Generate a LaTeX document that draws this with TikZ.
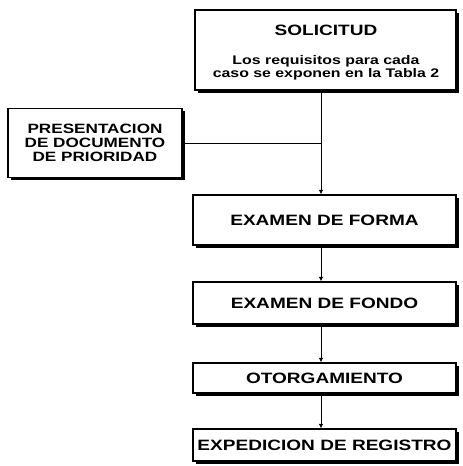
\documentclass[tikz,border=0pt]{standalone}
\usepackage{fontspec}
\newfontfamily\boxfont[FakeStretch=1.27]{Liberation Sans}
\usetikzlibrary{arrows.meta,shadows}
\tikzset{
  boxnode/.style={draw=black, line width=1.2pt, fill=white, rectangle, inner sep=0pt,
    drop shadow={shadow xshift=2.5pt, shadow yshift=-2.5pt, fill=black, opacity=1},
    font=\boxfont\bfseries\fontsize{15}{18}\selectfont, align=center},
  txt/.style={inner sep=0pt, align=center},
  conn/.style={line width=0.9pt},
  arr/.style={line width=0.9pt, -{Latex[length=4.5pt,width=4.5pt]}}
}
\begin{document}
\begin{tikzpicture}[x=1pt,y=-1pt]
\useasboundingbox (0,0) rectangle (463,466);
\coordinate (axis) at (321,0);
% boxes
\node[boxnode, minimum width=261pt, minimum height=80pt] (sol) at (325.5,50) {};
\node[txt, font=\boxfont\bfseries\fontsize{15}{18}\selectfont] (soltitle) at (326,30) {SOLICITUD};
\node[txt, font=\boxfont\bfseries\fontsize{12.5}{13.5}\selectfont] (soltext) at (326,68) {Los requisitos para cada\\caso se exponen en la Tabla 2};
\node[boxnode, minimum width=174pt, minimum height=69pt, font=\boxfont\bfseries\fontsize{13.5}{14}\selectfont] (pres) at (95,143) {PRESENTACION\\DE DOCUMENTO\\DE PRIORIDAD};
\node[boxnode, minimum width=263pt, minimum height=50pt] (forma) at (324.5,220) {EXAMEN DE FORMA};
\node[boxnode, minimum width=263pt, minimum height=42pt] (fondo) at (324.5,303) {EXAMEN DE FONDO};
\node[boxnode, minimum width=263pt, minimum height=30pt] (otorg) at (324.5,378) {OTORGAMIENTO};
\node[boxnode, minimum width=263pt, minimum height=32pt] (exped) at (324.5,445) {EXPEDICION DE REGISTRO};
% connectors
\draw[conn] (pres.east) -- (pres.east -| axis);
\draw[arr] ([yshift=-2.5pt]sol.south -| axis) -- (forma.north -| axis);
\draw[arr] ([yshift=-2.5pt]forma.south -| axis) -- (fondo.north -| axis);
\draw[arr] ([yshift=-2.5pt]fondo.south -| axis) -- (otorg.north -| axis);
\draw[arr] ([yshift=-2.5pt]otorg.south -| axis) -- (exped.north -| axis);
\end{tikzpicture}
\end{document}
